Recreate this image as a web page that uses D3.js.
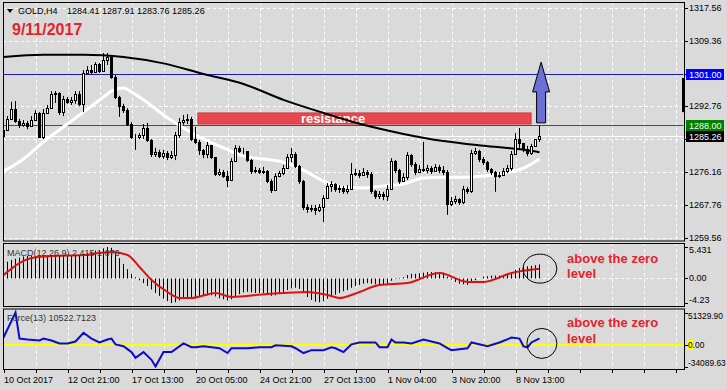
<!DOCTYPE html>
<html><head><meta charset="utf-8">
<script src="https://cdn.jsdelivr.net/npm/d3@7"></script>
<style>
html,body{margin:0;padding:0;background:#dadada;}
svg{display:block;font-family:"Liberation Sans",Arial,sans-serif;}
</style></head><body>
<svg id="c" width="727" height="390"></svg>
<script>
// ---------------- DATA ----------------
const symbol = "GOLD,H4";
const headerOHLC = [1284.41, 1287.91, 1283.76, 1285.26];
const dateTitle = "9/11/2017";
const firstOpen = 1285.3;
const closes = [1286.8,1289.6,1292.1,1289.1,1288.1,1288.6,1287.8,1289.3,1291.1,1285.0,
1291.1,1292.3,1295.9,1296.1,1291.3,1294.6,1293.9,1294.4,1295.9,1293.4,
1301.2,1301.9,1301.4,1303.4,1301.7,1304.4,1305.2,1300.2,1295.1,1292.8,
1291.8,1288.3,1285.0,1285.0,1285.5,1287.3,1284.3,1280.7,1281.2,1280.2,
1281.0,1280.0,1280.5,1285.5,1288.8,1289.3,1289.6,1284.5,1283.8,1281.8,
1280.7,1283.0,1280.0,1275.7,1276.2,1275.2,1274.2,1279.0,1282.3,1281.5,
1281.5,1279.2,1276.5,1276.7,1276.2,1276.5,1273.9,1271.7,1275.2,1275.9,
1277.2,1280.0,1280.7,1277.7,1273.9,1267.4,1266.9,1267.1,1266.6,1267.4,
1269.6,1272.7,1273.2,1271.9,1272.2,1271.4,1271.9,1275.7,1275.9,1275.4,
1276.2,1275.7,1271.4,1270.2,1270.7,1270.2,1271.9,1279.0,1276.7,1273.9,
1274.9,1280.5,1278.2,1276.2,1277.0,1276.7,1277.2,1276.5,1277.5,1276.7,
1276.2,1268.1,1268.9,1269.4,1268.6,1271.9,1271.4,1281.0,1281.5,1279.5,
1278.7,1277.0,1276.2,1275.2,1275.4,1276.5,1277.2,1280.7,1284.5,1283.5,
1282.0,1281.0,1282.8,1284.41,1285.26];
const highs = [1287.8,1290.3,1293.9,1294.1,1289.6,1289.3,1289.1,1290.3,1291.8,1291.3,
1292.1,1293.1,1296.6,1296.6,1296.3,1295.4,1295.1,1295.1,1296.6,1296.6,
1301.9,1302.9,1303.2,1303.9,1303.7,1306.2,1306.2,1305.5,1300.7,1295.4,
1293.4,1292.3,1288.8,1285.8,1286.0,1288.3,1288.6,1284.5,1282.3,1281.8,
1281.8,1281.5,1281.5,1286.3,1289.8,1290.6,1290.8,1290.1,1287.6,1284.3,
1282.0,1283.8,1283.0,1280.0,1277.0,1276.7,1276.5,1279.7,1283.0,1282.8,
1282.3,1281.5,1279.5,1277.5,1277.2,1277.5,1276.7,1274.4,1275.9,1276.5,
1278.0,1280.7,1282.3,1281.2,1278.0,1274.2,1268.1,1267.9,1267.9,1268.1,
1270.4,1273.4,1273.9,1273.4,1272.9,1272.7,1272.9,1278.5,1277.0,1276.7,
1277.2,1276.7,1276.2,1271.7,1271.4,1271.2,1272.9,1279.7,1279.2,1277.0,
1275.9,1281.2,1280.7,1278.7,1278.0,1283.8,1278.0,1277.7,1278.2,1278.0,
1277.7,1276.7,1269.9,1270.2,1269.6,1272.7,1272.4,1281.8,1282.3,1281.8,
1280.0,1279.0,1277.2,1276.5,1276.2,1277.2,1278.0,1281.5,1286.0,1287.3,
1283.5,1282.8,1283.3,1284.5,1287.91];
const lows = [1284.8,1286.8,1289.6,1288.6,1287.3,1287.6,1287.0,1287.6,1289.3,1284.8,
1284.5,1291.1,1292.3,1293.6,1290.6,1290.3,1293.4,1293.1,1293.4,1292.8,
1291.3,1300.9,1300.9,1301.2,1301.2,1301.7,1303.2,1299.7,1294.6,1290.1,
1291.1,1287.8,1284.5,1281.8,1284.5,1284.5,1283.8,1280.0,1280.0,1279.7,
1279.5,1279.2,1279.5,1279.2,1284.8,1288.1,1288.3,1284.0,1283.3,1280.5,
1279.7,1279.7,1279.5,1275.2,1275.2,1274.7,1272.4,1273.9,1278.7,1281.0,
1280.7,1278.7,1275.7,1275.9,1275.7,1275.7,1273.4,1270.9,1271.4,1274.9,
1275.4,1277.2,1278.7,1277.2,1273.2,1266.6,1265.9,1266.1,1265.4,1266.1,
1263.6,1269.4,1271.2,1271.2,1270.9,1270.7,1270.7,1271.7,1275.2,1274.7,
1275.2,1274.7,1270.7,1269.4,1269.4,1269.1,1268.9,1271.7,1275.9,1273.2,
1273.9,1274.2,1277.5,1275.4,1275.9,1276.2,1275.9,1275.7,1276.2,1275.9,
1275.4,1265.4,1267.6,1268.1,1267.9,1268.1,1270.7,1270.9,1280.5,1278.7,
1278.0,1276.2,1275.4,1271.2,1274.7,1275.2,1275.9,1276.5,1280.5,1281.8,
1281.2,1280.2,1280.5,1282.5,1283.76];

const slowMABars   = [0,10,20,30,40,50,60,70,80,90,100,110,120,130,134];
const slowMAValues = [1305.2,1305.8,1305.8,1305.2,1303.6,1300.9,1298.4,1294.4,1291.1,1288.1,1285.8,1284.0,1282.8,1281.8,1281.2];
const fastMABars   = [0,5,10,15,20,25,27,30,32,35,40,45,50,55,60,65,70,75,80,85,90,95,100,105,110,115,120,125,130,134];
const fastMAValues = [1276.4,1279.5,1283.8,1287.6,1291.3,1295.1,1296.6,1297.4,1296.4,1294.4,1290.6,1287.3,1284.5,1282.3,1280.2,1279.5,1278.7,1276.7,1273.9,1272.4,1272.2,1272.7,1273.2,1274.7,1274.9,1274.9,1275.2,1275.9,1277.2,1279.5];

const macdHist = [2.6,2.9,3.2,3.4,3.6,3.8,3.9,3.9,3.9,3.8,
3.8,3.8,3.9,4.0,3.9,3.9,3.9,3.9,4.0,3.9,
4.2,4.4,4.6,4.8,4.9,5.2,5.431,5.3,4.6,3.5,
2.5,1.6,0.8,0.2,-0.3,-0.8,-1.3,-1.9,-2.5,-3.0,
-3.5,-3.9,-4.23,-4.1,-3.8,-3.5,-3.2,-3.2,-3.2,-3.1,
-3.0,-2.9,-2.9,-3.1,-3.4,-3.6,-3.8,-3.6,-3.1,-2.7,
-2.4,-2.3,-2.4,-2.5,-2.5,-2.5,-2.7,-3.0,-2.9,-2.7,
-2.4,-2.0,-1.7,-1.6,-1.8,-2.5,-3.2,-3.7,-4.0,-4.1,
-3.9,-3.5,-3.1,-2.8,-2.5,-2.2,-2.0,-1.6,-1.3,-1.1,
-0.9,-0.8,-0.9,-1.0,-1.0,-1.0,-0.9,-0.4,-0.1,0.1,
0.2,0.6,0.8,0.8,0.9,1.0,1.1,1.1,1.1,1.1,
1.0,0.3,-0.2,-0.6,-0.9,-1.0,-1.1,-0.6,-0.3,0.0,
0.3,0.4,0.5,0.5,0.5,0.6,0.8,1.1,1.5,1.8,
2.0,2.1,2.2,2.3,2.415];
const signalBars   = [0,4,7,12,20,24,27,31,34,37,41,44,47,53,57,66,76,81,84,87,89,94,101,109,116,120,127,134];
const signalValues = [0.60,2.67,3.54,3.88,4.05,4.40,4.57,4.05,1.98,-0.26,-2.33,-3.36,-3.36,-2.50,-3.19,-2.67,-2.33,-2.85,-3.36,-2.85,-2.33,-1.12,-0.78,0.95,-0.60,-0.60,0.95,1.676];

const forceBars = [0,3,4,6,9,10,12,14,16,18,20,22,24,26,27,28,30,32,33,35,37,38,40,42,45,47,48,50,52,54,56,57,61,64,67,68,72,73,75,77,80,82,83,85,87,89,93,94,96,97,98,100,102,105,109,111,112,116,117,121,124,127,129,130,131,132,134];
const forceValues = [11590,51329.9,10065,8540,7015,10065,7015,2440,2440,5490,19215,10065,3965,8540,10065,915,-2135,-11285,-20435,-11285,-23485,-34089.6,-11285,-11285,2440,-3660,-3660,-2135,-3660,-5185,-12810,-5185,-5185,-3660,-3660,-610,-2135,-5185,-12810,-8235,-8235,-3660,-5185,-11285,915,3965,3965,-3660,-3660,8540,3965,3965,2440,8540,2440,-5185,-8235,-5185,3965,-2135,3965,11590,10065,-2135,-3660,3965,10522.7];

const priceTicks = [1317.56,1309.36,1300.96,1292.76,1284.56,1276.16,1267.76,1259.56];
const macdTicks = [5.431, 0, -4.23];
const macdTickLabels = ["5.431","0.00","-4.23"];
const forceTicks = [51329.90, 0, -34089.63];
const forceTickLabels = ["51329.90","0.00","-34089.63"];
const timeLabels = ["10 Oct 2017","12 Oct 21:00","17 Oct 13:00","20 Oct 05:00","24 Oct 21:00","27 Oct 13:00","1 Nov 04:00","3 Nov 20:00","8 Nov 13:00"];
const timeLabelBars = [0,16,32,48,64,80,96,112,128];

const blueLevel = 1301.00, greenLevel = 1288.00, bidLevel = 1285.26;
const resistance = {bar0:48.6, bar1:131.9, p0:1288.3, p1:1291.1, textBar:82.4, label:"resistance"};
const arrow = {bar:134.4, from:1288.6, headBase:1296.4, to:1303.9};
const markerBar = [1291.3, 1299.9];
const macdInfo = "MACD(12,26,9) 2.415 1.676";
const forceInfo = "Force(13) 10522.7123";
const noteLines = ["above the zero","level"];
const macdNote = {bar:140.9, value:3.5, circleBar:134.1, circleValue:1.7};
const forceNote = {bar:140.9, value:35500, circleBar:134.6, circleValue:2400};

// ---------------- LAYOUT ----------------
const L = 3, R = 684;
const P = {main:[2,240.5], macd:[243,306], force:[308.5,369]};
const svg = d3.select("#c");
svg.append("rect").attr("width",727).attr("height",390).attr("fill","#dadada");

const x = d3.scaleLinear().domain([0,170]).range([3.5,683.5]);
const y = d3.scaleLinear().domain([1259.56,1317.56]).range([238,8]);
const ym = d3.scaleLinear().domain([-4.23,5.431]).range([303,247]);
const yf = d3.scaleLinear().domain([-34089.63,51329.9]).range([366.5,312.5]);

const defs = svg.append("defs");
Object.entries(P).forEach(([k,[t,b]])=>{
  defs.append("clipPath").attr("id","clip-"+k).append("rect")
    .attr("x",L+0.5).attr("y",t+0.5).attr("width",R-L-1).attr("height",b-t-1);
});
const gMain = svg.append("g").attr("clip-path","url(#clip-main)");
const gMacd = svg.append("g").attr("clip-path","url(#clip-macd)");
const gForce = svg.append("g").attr("clip-path","url(#clip-force)");

// vertical grid
const gridBars = d3.range(8,170,8);
[[gMain,P.main],[gMacd,P.macd],[gForce,P.force]].forEach(([g,[t,b]])=>{
  g.selectAll(null).data(gridBars).enter().append("line")
    .attr("x1",d=>Math.round(x(d))+0.5).attr("x2",d=>Math.round(x(d))+0.5)
    .attr("y1",t).attr("y2",b)
    .attr("stroke","#fff").attr("stroke-dasharray","3,3");
});
// horizontal grid main
gMain.selectAll(null).data(priceTicks).enter().append("line")
  .attr("x1",L).attr("x2",R)
  .attr("y1",d=>Math.round(y(d))+0.5).attr("y2",d=>Math.round(y(d))+0.5)
  .attr("stroke","#fff").attr("stroke-dasharray","3,3");
gMacd.append("line").attr("x1",L).attr("x2",R)
  .attr("y1",Math.round(ym(0))+0.5).attr("y2",Math.round(ym(0))+0.5)
  .attr("stroke","#fff").attr("stroke-dasharray","3,3");

// level lines
const hline=(v,c,w)=>gMain.append("line").attr("x1",L).attr("x2",R)
  .attr("y1",Math.round(y(v))+0.5).attr("y2",Math.round(y(v))+0.5)
  .attr("stroke",c).attr("stroke-width",w||1);
hline(blueLevel,"#1c1cb4");
hline(greenLevel,"#0a7a0a");
hline(bidLevel,"#ffffff");

// resistance rectangle
gMain.append("rect")
  .attr("x",x(resistance.bar0)).attr("y",y(resistance.p1))
  .attr("width",x(resistance.bar1)-x(resistance.bar0))
  .attr("height",y(resistance.p0)-y(resistance.p1))
  .attr("fill","#e9474f").attr("stroke","#d23a42");
gMain.append("text").attr("x",x(resistance.textBar)).attr("y",(y(resistance.p0)+y(resistance.p1))/2+0.5)
  .attr("text-anchor","middle").attr("dominant-baseline","central")
  .attr("font-size",13).attr("font-weight","bold").attr("fill","#fff").text(resistance.label);

// moving averages
const pts = (bars,vals)=>bars.map((b,i)=>[b,vals[i]]);
gMain.append("path").datum(pts(fastMABars,fastMAValues))
  .attr("d",d3.line().x(d=>x(d[0])).y(d=>y(d[1])).curve(d3.curveMonotoneX))
  .attr("fill","none").attr("stroke","#fff").attr("stroke-width",3);
gMain.append("path").datum(pts(slowMABars,slowMAValues))
  .attr("d",d3.line().x(d=>x(d[0])).y(d=>y(d[1])).curve(d3.curveMonotoneX))
  .attr("fill","none").attr("stroke","#000").attr("stroke-width",2);

// candles
const candles = closes.map((c,i)=>({i, o: i===0?firstOpen:closes[i-1], h:highs[i], l:lows[i], c}));
const cg = gMain.append("g");
cg.selectAll(null).data(candles).enter().append("line")
  .attr("x1",d=>x(d.i)).attr("x2",d=>x(d.i))
  .attr("y1",d=>y(d.h)).attr("y2",d=>y(d.l)).attr("stroke","#000");
cg.selectAll(null).data(candles).enter().append("rect")
  .attr("x",d=>x(d.i)-1)
  .attr("y",d=>Math.round(y(Math.max(d.o,d.c)))+0.5)
  .attr("width",2)
  .attr("height",d=>Math.max(0,Math.round(y(Math.min(d.o,d.c)))-Math.round(y(Math.max(d.o,d.c)))))
  .attr("fill",d=>d.c>=d.o?"#fff":"#000").attr("stroke","#000");

// arrow
const ax=x(arrow.bar), aTip=y(arrow.to), aHB=y(arrow.headBase), aBase=y(arrow.from);
gMain.append("path")
  .attr("d",`M${ax},${aTip} L${ax+8.5},${aHB} L${ax+4.5},${aHB} L${ax+4.5},${aBase} L${ax-4.5},${aBase} L${ax-4.5},${aHB} L${ax-8.5},${aHB} Z`)
  .attr("fill","#6b70d6").attr("stroke","#000");

// header texts
svg.append("path").attr("d","M7,9 L13,9 L10,13 Z").attr("fill","#000");
svg.append("text").attr("x",18).attr("y",11).attr("dominant-baseline","central")
  .attr("font-size",9).attr("fill","#000").text(symbol);
svg.append("text").attr("x",67).attr("y",11).attr("dominant-baseline","central")
  .attr("font-size",9).attr("fill","#000").text(headerOHLC.map(v=>v.toFixed(2)).join(" "));
svg.append("text").attr("x",12).attr("y",35).attr("font-size",16).attr("font-weight","bold")
  .attr("fill","#e5232b").text(dateTitle);

// MACD panel
gMacd.selectAll(null).data(macdHist).enter().append("line")
  .attr("x1",(d,i)=>x(i)).attr("x2",(d,i)=>x(i))
  .attr("y1",ym(0)).attr("y2",d=>ym(d)).attr("stroke","#000");
gMacd.append("path").datum(pts(signalBars,signalValues))
  .attr("d",d3.line().x(d=>x(d[0])).y(d=>ym(d[1])).curve(d3.curveMonotoneX))
  .attr("fill","none").attr("stroke","#e01010").attr("stroke-width",2);
svg.append("text").attr("x",7).attr("y",253).attr("dominant-baseline","central")
  .attr("font-size",9).attr("fill","#333").text(macdInfo);
svg.append("ellipse").attr("cx",x(macdNote.circleBar)).attr("cy",ym(macdNote.circleValue))
  .attr("rx",17).attr("ry",14.5).attr("fill","none").attr("stroke","#000");

// Force panel
gForce.append("line").attr("x1",L).attr("x2",R).attr("y1",yf(0)).attr("y2",yf(0))
  .attr("stroke","#ffff00").attr("stroke-width",2);
gForce.append("path").datum(pts(forceBars,forceValues))
  .attr("d",d3.line().x(d=>x(d[0])).y(d=>yf(d[1])))
  .attr("fill","none").attr("stroke","#0a0ad0").attr("stroke-width",2);
svg.append("text").attr("x",7).attr("y",318).attr("dominant-baseline","central")
  .attr("font-size",9).attr("fill","#333").text(forceInfo);
svg.append("ellipse").attr("cx",x(forceNote.circleBar)).attr("cy",yf(forceNote.circleValue))
  .attr("rx",15).attr("ry",15).attr("fill","none").attr("stroke","#000");

// notes
[[macdNote,ym],[forceNote,yf]].forEach(([n,sc])=>{
  noteLines.forEach((t,k)=>{
    svg.append("text").attr("x",x(n.bar)).attr("y",sc(n.value)+k*15.5)
      .attr("dominant-baseline","central").attr("font-size",13).attr("font-weight","bold")
      .attr("fill","#e5232b").text(t);
  });
});

// panel borders
Object.values(P).forEach(([t,b])=>{
  svg.append("rect").attr("x",L+0.5).attr("y",t+0.5).attr("width",R-L).attr("height",b-t)
    .attr("fill","none").attr("stroke","#000");
});

// right axis - main
const fmt = d3.format(".2f");
const boxLevels = [blueLevel, greenLevel, bidLevel];
priceTicks.forEach(v=>{
  svg.append("line").attr("x1",R).attr("x2",R+4).attr("y1",Math.round(y(v))+0.5).attr("y2",Math.round(y(v))+0.5).attr("stroke","#000");
  // labels hidden behind a level box are not drawn (covered in the reference)
  if (boxLevels.some(b=>Math.abs(y(b)-y(v))<9)) return;
  svg.append("text").attr("x",689).attr("y",y(v)).attr("dominant-baseline","central")
    .attr("font-size",9).attr("fill","#000").text(fmt(v));
});
svg.append("rect").attr("x",R-2).attr("y",y(markerBar[1])).attr("width",3)
  .attr("height",y(markerBar[0])-y(markerBar[1])).attr("fill","#000");
const box=(v,bg,fg)=>{
  svg.append("rect").attr("x",686).attr("y",Math.round(y(v))-5).attr("width",38).attr("height",11).attr("fill",bg);
  svg.append("text").attr("x",689).attr("y",Math.round(y(v))+0.5).attr("dominant-baseline","central")
    .attr("font-size",9).attr("fill",fg).text(fmt(v));
};
box(blueLevel,"#0000ff","#fff");
box(greenLevel,"#008000","#e8ffe8");
box(bidLevel,"#000","#fff");

// right axis - MACD & Force
const clampY=(v,[t,b])=>Math.max(t+7,Math.min(b-6,v));
macdTicks.forEach((v,k)=>{
  const yy=ym(v);
  svg.append("line").attr("x1",R).attr("x2",R+4).attr("y1",Math.round(yy)+0.5).attr("y2",Math.round(yy)+0.5).attr("stroke","#000");
  svg.append("text").attr("x",689).attr("y",clampY(yy,P.macd)).attr("dominant-baseline","central")
    .attr("font-size",9).attr("fill","#000").text(macdTickLabels[k]);
});
svg.append("rect").attr("x",687).attr("y",yf(0)-5).attr("width",6).attr("height",10).attr("fill","#ffff00");
forceTicks.forEach((v,k)=>{
  const yy=yf(v);
  svg.append("line").attr("x1",R).attr("x2",R+4).attr("y1",Math.round(yy)+0.5).attr("y2",Math.round(yy)+0.5).attr("stroke","#000");
  svg.append("text").attr("x",688).attr("y",clampY(yy,P.force)).attr("dominant-baseline","central")
    .attr("font-size",8.4).attr("fill","#000").text(forceTickLabels[k]);
});

// bottom time axis
const tickBars = d3.range(0,170,8);
svg.selectAll(null).data(tickBars).enter().append("line")
  .attr("x1",d=>Math.round(x(d))+0.5).attr("x2",d=>Math.round(x(d))+0.5)
  .attr("y1",P.force[1]).attr("y2",P.force[1]+4).attr("stroke","#000");
svg.selectAll(null).data(timeLabels).enter().append("text")
  .attr("x",(d,i)=>x(timeLabelBars[i])+0.5).attr("y",383)
  .attr("font-size",9).attr("fill","#000").text(d=>d);
</script>
</body></html>
